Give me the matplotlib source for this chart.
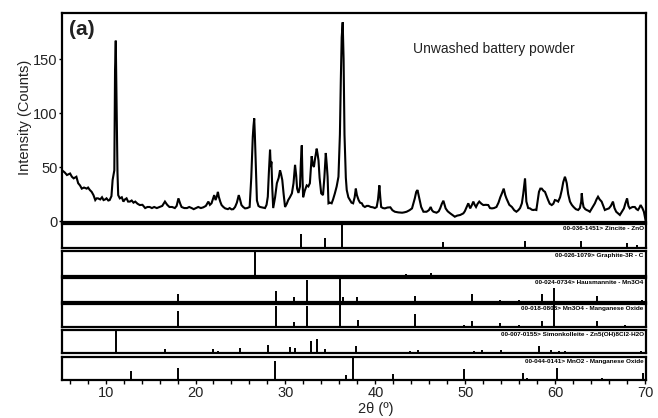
import matplotlib
matplotlib.use("Agg")
import matplotlib.pyplot as plt
from matplotlib.ticker import MultipleLocator

plt.rcParams['font.family'] = ['Liberation Sans', 'DejaVu Sans']

# ---- measured XRD profile (2theta, counts) ----
two_theta = [5.15, 5.45, 5.7, 6.05, 6.25, 6.45, 6.75, 6.95, 7.15, 7.35, 7.6, 7.9, 8.05, 8.25, 8.45,
             8.65, 8.85, 9.0, 9.15, 9.4, 9.6, 9.77, 9.95, 10.1, 10.3, 10.45, 10.65, 10.78, 10.97,
             11.05, 11.13, 11.22, 11.32, 11.4, 11.58, 11.8, 11.98, 12.15, 12.33, 12.5, 12.7, 12.9,
             13.1, 13.3, 13.55, 13.8, 14.1, 14.4, 14.65, 14.9, 15.15, 15.4, 15.7, 16.0, 16.3, 16.6,
             16.85, 17.1, 17.4, 17.7, 17.9, 18.1, 18.3, 18.45, 18.75, 19.05, 19.3, 19.57, 19.8,
             20.05, 20.3, 20.6, 20.87, 21.15, 21.43, 21.6, 21.78, 22.08, 22.23, 22.38, 22.49, 22.59,
             22.75, 22.9, 23.1, 23.3, 23.6, 23.8, 24.0, 24.2, 24.4, 24.6, 24.81, 24.95, 25.11,
             25.3, 25.51, 25.75, 26.02, 26.2, 26.37, 26.45, 26.53, 26.6, 26.68, 26.83, 27.0, 27.18,
             27.45, 27.73, 27.9, 28.04, 28.16, 28.29, 28.37, 28.44, 28.54, 28.64, 28.85, 29.05,
             29.25, 29.4, 29.5, 29.65, 29.8, 29.96, 30.15, 30.31, 30.5, 30.72, 30.9, 31.07, 31.2,
             31.3, 31.45, 31.62, 31.72, 31.82, 31.9, 31.97, 32.15, 32.37, 32.55, 32.72, 32.82, 32.92,
             33.05, 33.17, 33.3, 33.48, 33.58, 33.68, 33.8, 33.98, 34.18, 34.33, 34.49, 34.6, 34.69,
             34.79, 34.95, 35.14, 35.3, 35.5, 35.7, 35.9, 36.06, 36.16, 36.26, 36.37, 36.47, 36.57,
             36.72, 36.82, 37.0, 37.18, 37.35, 37.53, 37.7, 37.83, 37.95, 38.14, 38.3, 38.5, 38.65,
             38.84, 39.05, 39.24, 39.5, 39.74, 39.95, 40.15, 40.3, 40.45, 40.55, 40.65, 40.85,
             41.06, 41.35, 41.67, 41.9, 42.17, 42.55, 42.98, 43.2, 43.48, 43.8, 44.08, 44.25, 44.39,
             44.55, 44.69, 44.89, 45.1, 45.35, 45.7, 45.95, 46.16, 46.3, 46.46, 46.81, 47.05, 47.21,
             47.4, 47.57, 47.7, 47.82, 48.05, 48.33, 48.6, 48.84, 49.1, 49.44, 49.79, 49.95, 50.09,
             50.22, 50.34, 50.55, 50.75, 50.9, 51.05, 51.2, 51.38, 51.56, 51.8, 52.01, 52.3, 52.56,
             52.75, 52.97, 53.2, 53.47, 53.7, 53.9, 54.08, 54.28, 54.45, 54.58, 54.9, 55.19, 55.45,
             55.69, 55.9, 56.1, 56.3, 56.45, 56.58, 56.65, 56.72, 56.8, 57.0, 57.2, 57.4, 57.56,
             57.75, 57.91, 58.05, 58.2, 58.35, 58.51, 58.7, 58.87, 59.05, 59.22, 59.4, 59.62, 59.8,
             59.97, 60.15, 60.34, 60.55, 60.74, 60.9, 61.09, 61.2, 61.29, 61.45, 61.65, 61.85,
             62.05, 62.3, 62.56, 62.75, 62.9, 62.96, 63.05, 63.16, 63.35, 63.51, 63.7, 63.86, 64.1,
             64.25, 64.42, 64.6, 64.77, 64.95, 65.17, 65.35, 65.53, 65.75, 65.98, 66.2, 66.43,
             66.6, 66.79, 67.0, 67.2, 67.45, 67.65, 67.8, 68.0, 68.15, 68.3, 68.6, 68.86, 69.05,
             69.21, 69.35, 69.51, 69.7, 69.87, 70.05]
counts = [47, 45, 42.6, 44, 41, 39.5, 41, 35, 33, 30, 31, 30, 31, 28.7, 27,
          24, 19.4, 21, 21, 20, 22, 19.4, 20, 21, 19, 19.4, 23, 38, 47,
          140, 167, 107, 45, 24, 21, 22, 18, 20, 21, 18, 18, 19,
          17, 18, 16, 14.8, 15, 12, 13, 13, 12, 13, 12, 13, 14, 18,
          15, 13, 13, 12, 14, 21, 16, 13, 12, 12, 13, 12, 11,
          12, 13, 12, 12.7, 14, 18, 15, 16.4, 24, 19.4, 23, 27, 22.5,
          18, 14.8, 13, 11.7, 11, 12, 10.8, 11, 13, 17, 24, 20, 14.8,
          13, 11.7, 12, 13, 40, 78, 88, 95, 80, 58, 19, 14, 13,
          12.5, 12, 15, 22.5, 45, 66, 50, 55, 30, 12, 22, 35,
          40, 47, 44, 38, 25, 13, 16, 19.4, 22, 25.6, 35, 52, 42,
          30, 26, 32, 55, 70, 40, 22, 28, 33, 32, 35, 48, 60,
          52, 50, 58, 67, 62, 56, 40, 25.6, 24, 40, 63, 52, 41,
          16.4, 17, 16.4, 20, 25.6, 32, 41, 80, 130, 170, 184, 150, 80,
          40, 28.7, 22, 19.4, 17, 16.4, 22, 30, 24, 19.4, 17, 16.4, 14,
          13, 14, 14, 13, 12.7, 12, 13, 20, 33, 22, 13, 12,
          11.7, 12.5, 12.7, 10, 8.6, 8, 7.7, 8, 8.6, 10, 11.7, 17, 21,
          27, 28.7, 21, 13, 8.6, 8.6, 10, 13, 10, 8.6, 7.7, 9, 11.7,
          16, 18.8, 15, 11.7, 9, 7.1, 5.5, 4, 5, 5.6, 7.1, 9, 11.7,
          14, 16.4, 11.7, 15, 18, 15, 13, 16, 18, 16, 14.8, 15, 14.8,
          12, 11.7, 12, 13, 17, 22, 25.6, 30, 24, 21, 15, 13, 10,
          8.6, 10, 12, 16.4, 25, 35, 39.5, 30, 18, 12, 11.7, 10.5, 10.2,
          10.5, 10.2, 18, 27, 30, 30, 28, 27, 23, 19.4, 16, 14.8, 16,
          19.4, 19, 18, 22, 28.7, 36, 41, 38, 35, 25, 18, 15,
          13, 11, 10.2, 12, 18, 25.6, 18, 13, 11, 10.2, 9.5, 8.6, 12,
          14, 16.4, 20, 22.5, 20, 18, 14, 10.2, 11, 11.7, 14, 18,
          12, 8.6, 7, 5.6, 9, 11.7, 16, 21, 14, 11.7, 13, 13, 11,
          10.2, 12, 14.8, 12, 8.6, 1]

# ---- reference stick patterns (2theta, relative intensity) ----
zincite_pos = [31.77, 34.42, 36.25, 47.54, 56.60, 62.86, 66.38, 67.96, 69.10]
zincite_int = [57, 42, 100, 25, 30, 28, 5, 22, 14]

graphite_pos = [26.6, 43.4, 46.2, 54.8]
graphite_int = [100, 10, 12, 5]

hausmannite_pos = [18.0, 28.9, 31.0, 32.35, 36.1, 36.45, 38.0, 44.4, 50.7, 53.9, 56.0, 58.5, 59.85, 64.6, 69.7]
hausmannite_int = [35, 45, 22, 90, 100, 22, 22, 25, 33, 10, 10, 33, 57, 25, 10]

mn3o4_pos = [18.0, 28.9, 31.0, 32.35, 36.1, 38.05, 44.4, 49.9, 50.8, 53.9, 56.0, 58.5, 59.9, 64.6, 67.8]
mn3o4_int = [68, 90, 20, 90, 100, 27, 55, 8, 25, 15, 6, 25, 100, 25, 8]

simonk_pos = [11.2, 16.6, 22.0, 22.5, 24.9, 28.1, 30.5, 31.1, 32.85, 33.5, 34.4, 36.4, 37.85, 41.6,
              43.9, 44.7, 46.3, 47.9, 51.0, 51.85, 54.0, 58.2, 59.5, 60.4, 61.1, 62.5, 66.3, 68.0, 69.6]
simonk_int = [100, 17, 17, 8, 23, 35, 27, 23, 52, 60, 17, 5, 32, 6,
              8, 12, 5, 5, 8, 12, 12, 30, 12, 8, 8, 6, 6, 6, 10]

mno2_pos = [12.8, 18.1, 25.7, 28.85, 36.75, 37.5, 39.0, 41.2, 42.0, 47.9, 49.85, 56.4, 56.85, 60.25, 65.2, 69.75]
mno2_int = [38, 53, 3, 81, 20, 100, 4, 4, 25, 3, 46, 29, 10, 53, 10, 32]

phase_labels = ["00-036-1451> Zincite - ZnO",
                "00-026-1079> Graphite-3R - C",
                "00-024-0734> Hausmannite - Mn3O4",
                "00-018-0803> Mn3O4 - Manganese Oxide",
                "00-007-0155> Simonkolleite - Zn5(OH)8Cl2·H2O",
                "00-044-0141> MnO2 - Manganese Oxide"]
phase_pos = [zincite_pos, graphite_pos, hausmannite_pos, mn3o4_pos, simonk_pos, mno2_pos]
phase_int = [zincite_int, graphite_int, hausmannite_int, mn3o4_int, simonk_int, mno2_int]

x_ticks = [10, 20, 30, 40, 50, 60, 70]
y_ticks = [0, 50, 100, 150]

W, H = 658, 418
fig = plt.figure(figsize=(W / 100, H / 100), dpi=100)
TXT = '#222222'


def box(top, bottom, left=62, right=645.5):
    return [left / W, 1 - bottom / H, (right - left) / W, (bottom - top) / H]


XLIM = (5.15, 70.05)

ax = fig.add_axes(box(13, 222))
ax.plot(two_theta, counts, color='black', lw=1.5, solid_joinstyle='miter')
ax.set_xlim(*XLIM)
ax.set_ylim(-0.9, 192.6)
ax.set_yticks(y_ticks)
ax.set_xticks([])
ax.tick_params(axis='y', direction='out', length=2.5, width=1, labelsize=10.5, labelcolor=TXT, pad=0.5)
for s in ax.spines.values():
    s.set_linewidth(1.6)
ax.set_ylabel("Intensity (Counts)", fontsize=10.5, color=TXT, labelpad=1)
ax.text(0.012, 0.965, "(a)", transform=ax.transAxes, fontsize=15, fontweight='bold',
        color=TXT, ha='left', va='top')
ax.text(0.74, 0.828, "Unwashed battery powder", transform=ax.transAxes, fontsize=10,
        color=TXT, ha='center', va='center')

panel_rows = [(224, 248), (251, 276), (278, 302), (304, 326.5), (330, 353), (357, 380)]
for i, ((t, b), lab, pos, inten) in enumerate(zip(panel_rows, phase_labels, phase_pos, phase_int)):
    pax = fig.add_axes(box(t, b))
    pax.vlines(pos, 0, inten, colors='black', lw=1.4)
    pax.set_xlim(*XLIM)
    pax.set_ylim(0, 100)
    pax.set_yticks([])
    for s in pax.spines.values():
        s.set_linewidth(1.6)
    pax.text(0.997, 0.93, lab, transform=pax.transAxes, fontsize=4.6, fontweight='bold',
             ha='right', va='top', color='black')
    if i == len(panel_rows) - 1:
        pax.set_xticks(x_ticks)
        pax.xaxis.set_minor_locator(MultipleLocator(2))
        pax.tick_params(axis='x', which='both', direction='out', length=3, width=1,
                        labelsize=10.5, labelcolor=TXT, pad=1.5)
        pax.set_xlabel("2θ (º)", fontsize=10.5, color=TXT, labelpad=1)
        pax.xaxis.label.set_x((40 - XLIM[0]) / (XLIM[1] - XLIM[0]))
    else:
        pax.set_xticks([])

fig.savefig("out.png", dpi=100)
